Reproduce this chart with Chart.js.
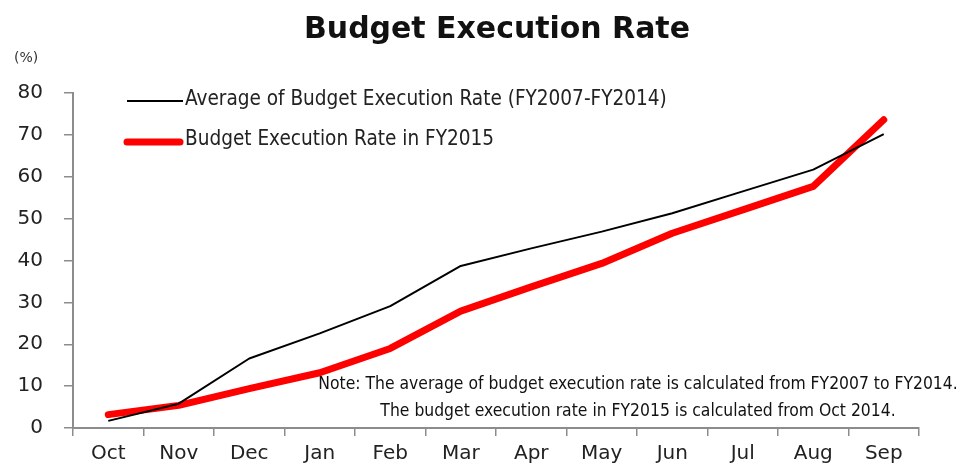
<!DOCTYPE html>
<html><head><meta charset="utf-8">
<script src="https://cdn.jsdelivr.net/npm/chart.js@4"></script>
<style>html,body{margin:0;padding:0;background:#fff}#wrap{width:963px;height:468px;position:relative}</style>
</head><body><div id="wrap"><canvas id="c" width="963" height="468"></canvas></div>
<script>
const categories = ['Oct','Nov','Dec','Jan','Feb','Mar','Apr','May','Jun','Jul','Aug','Sep'];
const averageRate = [1.7, 5.8, 16.6, 22.6, 29.1, 38.7, 42.9, 46.9, 51.3, 56.5, 61.7, 70.2];
const rateFY2015 = [3.2, 5.4, 9.4, 13.2, 19.0, 27.9, 33.7, 39.3, 46.5, 52.1, 57.7, 73.6];
const yTicks = [0,10,20,30,40,50,60,70,80];
const seriesNames = ['Average of Budget Execution Rate (FY2007-FY2014)', 'Budget Execution Rate in FY2015'];
const titleText = 'Budget Execution Rate';
const unitText = '(%)';
const noteLines = ['Note: The average of budget execution rate is calculated from FY2007 to FY2014.',
                   'The budget execution rate in FY2015 is calculated from Oct 2014.'];

const FONT = '"DejaVu Sans", Verdana, sans-serif';
const CFONT = '"DejaVu Sans Condensed", "DejaVu Sans", sans-serif';
const AXIS = '#8c8c8c';

function fitFont(ctx, text, target, weight, base, fam) {
  ctx.font = weight + ' ' + base + 'px ' + fam;
  const w = ctx.measureText(text).width;
  return base * target / w;
}

const overlay = {
  id: 'overlay',
  afterDraw(chart) {
    const ctx = chart.ctx;
    ctx.save();
    // title
    let s = fitFont(ctx, titleText, 386, 'bold', 28, FONT);
    ctx.font = 'bold ' + s + 'px ' + FONT;
    ctx.fillStyle = '#111';
    ctx.textAlign = 'center'; ctx.textBaseline = 'alphabetic';
    ctx.fillText(titleText, 497, 38);
    // unit
    ctx.font = '14px ' + FONT;
    ctx.fillStyle = '#333';
    ctx.textAlign = 'left'; ctx.textBaseline = 'middle';
    ctx.fillText(unitText, 14, 58);
    // legend
    const ls = fitFont(ctx, seriesNames[0], 482, 'normal', 17, CFONT);
    ctx.font = ls + 'px ' + CFONT;
    ctx.fillStyle = '#222';
    ctx.lineCap = 'butt';
    ctx.strokeStyle = '#000'; ctx.lineWidth = 2;
    ctx.beginPath(); ctx.moveTo(127, 101); ctx.lineTo(183, 101); ctx.stroke();
    ctx.fillText(seriesNames[0], 185, 100);
    ctx.strokeStyle = '#ff0000'; ctx.lineWidth = 7; ctx.lineCap = 'round';
    ctx.beginPath(); ctx.moveTo(127, 142); ctx.lineTo(180, 142); ctx.stroke();
    ctx.fillText(seriesNames[1], 185, 140);
    // notes
    const ns = fitFont(ctx, noteLines[0], 640, 'normal', 15, CFONT);
    ctx.font = ns + 'px ' + CFONT;
    ctx.fillStyle = '#111';
    ctx.textAlign = 'center';
    ctx.fillText(noteLines[0], 638, 384);
    ctx.fillText(noteLines[1], 638, 411);
    ctx.restore();
  }
};

new Chart(document.getElementById('c'), {
  type: 'line',
  data: {
    labels: categories,
    datasets: [
      { label: seriesNames[1], data: rateFY2015, borderColor: '#ff0000', borderWidth: 7,
        pointRadius: 0, tension: 0, borderCapStyle: 'round', borderJoinStyle: 'round', order: 1 },
      { label: seriesNames[0], data: averageRate, borderColor: '#000000', borderWidth: 2,
        pointRadius: 0, tension: 0, borderJoinStyle: 'round', order: 0 }
    ]
  },
  options: {
    responsive: false,
    animation: false,
    layout: { padding: { left: 0, right: 44, top: 93, bottom: 0 } },
    plugins: { legend: { display: false }, title: { display: false }, tooltip: { enabled: false } },
    scales: {
      x: {
        offset: true,
        grid: { offset: true, drawOnChartArea: false, drawTicks: true, tickLength: 8, color: AXIS, lineWidth: 1.5 },
        border: { color: AXIS, width: 2 },
        ticks: { color: '#222', font: { family: FONT, size: 20 }, padding: 6, maxRotation: 0, autoSkip: false },
        afterFit(scale) { scale.height = 40; }
      },
      y: {
        min: 0, max: 80,
        afterBuildTicks(scale) { scale.ticks = yTicks.map(v => ({ value: v })); },
        grid: { drawOnChartArea: false, drawTicks: true, tickLength: 9, color: AXIS, lineWidth: 1.5 },
        border: { color: AXIS, width: 2 },
        ticks: { color: '#222', font: { family: FONT, size: 20 }, padding: 21 },
        afterFit(scale) { scale.width = 73; }
      }
    }
  },
  plugins: [overlay]
});
</script>
</body></html>
